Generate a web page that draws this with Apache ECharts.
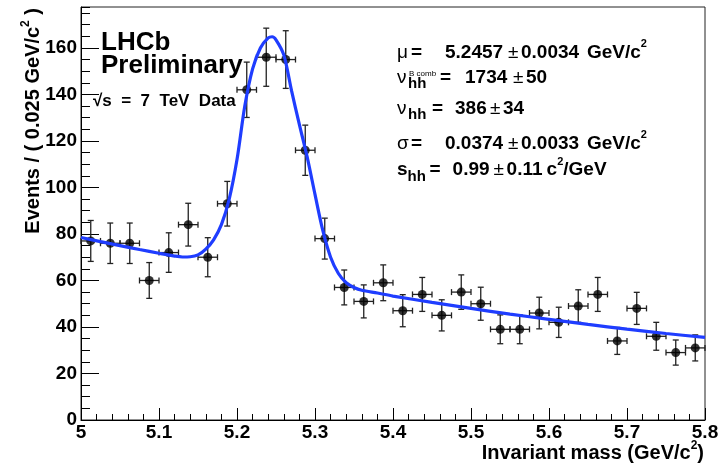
<!DOCTYPE html>
<html><head><meta charset="utf-8">
<script src="https://cdn.jsdelivr.net/npm/echarts@6/dist/echarts.min.js"></script>
<style>html,body{margin:0;padding:0;background:#fff}#c{width:724px;height:467px}</style>
</head><body><div id="c"></div>
<script>
// ---- data ----
const binCenters = [5.0125,5.0375,5.0625,5.0875,5.1125,5.1375,5.1625,5.1875,5.2125,5.2375,5.2625,5.2875,5.3125,5.3375,5.3625,5.3875,
                    5.4125,5.4375,5.4625,5.4875,5.5125,5.5375,5.5625,5.5875,5.6125,5.6375,5.6625,5.6875,5.7125,5.7375,5.7625,5.7875];
const counts  = [77,76,76,60,72,84,70,93,142,156,155,116,78,57,51,59,47,54,45,55,50,39,39,46,42,49,54,34,48,36,29,31];
const errors  = [8.8,8.7,8.7,7.7,8.5,9.2,8.4,9.6,11.9,12.5,12.4,10.8,8.8,7.5,7.1,7.7,6.9,7.3,6.7,7.4,7.1,6.2,6.2,6.8,6.5,7.0,7.3,5.8,6.9,6.0,5.4,5.6];
const binHalfWidth = 0.0125;
// fitted curve
const fitX = [5.000,5.025,5.050,5.075,5.100,5.120,5.130,5.140,5.150,5.160,5.170,5.180,5.190,5.200,5.210,5.220,5.230,5.240,5.245,
              5.250,5.260,5.270,5.280,5.290,5.300,5.310,5.320,5.330,5.340,5.350,5.360,5.380,5.400,5.450,5.500,5.550,5.600,5.650,5.700,5.750,5.800];
const fitY = [78.5,76.7,75.0,73.3,71.7,70.5,70.1,70.2,71.0,73.5,77.5,84,95,112,135,151,160,164.3,164.8,
              163.5,157,141.5,127,113,97,81.5,70,63,59,57,55.8,54.6,53.3,50.6,48.0,45.5,43.3,41.1,39.1,37.2,35.5];
const yTickLabels = [0,20,40,60,80,100,120,140,160];
const xTickLabels = ['5','5.1','5.2','5.3','5.4','5.5','5.6','5.7','5.8'];

const FONT = '"Liberation Sans", Arial, Helvetica, sans-serif';
const chart = echarts.init(document.getElementById('c'), null, {renderer:'canvas'});

const points = binCenters.map((x,i)=>[x, counts[i], errors[i]]);
const fitLine = fitX.map((x,i)=>[x, fitY[i]]);

const rich = {
  b:   {fontFamily:FONT, fontWeight:'bold', fontSize:19, lineHeight:28, color:'#000'},
  g:   {fontFamily:FONT, fontWeight:'normal', fontSize:19, lineHeight:28, color:'#000'},
  sup: {fontFamily:FONT, fontWeight:'bold', fontSize:11, lineHeight:16, verticalAlign:'top', color:'#000'},
  sub: {fontFamily:FONT, fontWeight:'bold', fontSize:15, lineHeight:12, verticalAlign:'bottom', color:'#000'}
};
function w(style, width){ return Object.assign({}, rich[style], {width}); }
const richW = Object.assign({}, rich, {
  g14: w('g',14), g11: w('g',11), eq34: w('b',34), n63: w('b',63), pm13: w('g',13), n66: w('b',66),
  sub32: w('sub',32), eq25: w('b',25), n48: w('b',48), n35: w('b',35),
  sub24: w('sub',24), sub22: w('sub',22), eq23: w('b',23), n41: w('b',41), n40: w('b',40)
});

const titleRich = {
  b:   {fontFamily:FONT, fontWeight:'bold', fontSize:20, lineHeight:28, color:'#000'},
  sup: {fontFamily:FONT, fontWeight:'bold', fontSize:12, lineHeight:16, verticalAlign:'top', color:'#000'}
};

function txt(x, y, text, r, extra){
  return Object.assign({type:'text', x, y, z:100, style:{text, rich:r, align:'left', verticalAlign:'top'}}, extra||{});
}

const option = {
  animation:false,
  backgroundColor:'#fff',
  grid:{left:81, right:19, top:7, bottom:47, show:true, borderColor:'#222', borderWidth:1, backgroundColor:'transparent'},
  xAxis:{
    type:'value', min:5, max:5.8, interval:0.1,
    axisLine:{show:true, onZero:false, lineStyle:{color:'#000', width:1}},
    axisTick:{show:true, inside:true, length:12, lineStyle:{color:'#000', width:1}},
    minorTick:{show:true, splitNumber:5, length:6, lineStyle:{color:'#000', width:1}},
    splitLine:{show:false},
    axisLabel:{show:true, margin:3, color:'#000', fontFamily:FONT, fontWeight:'bold', fontSize:19,
      formatter:(v)=>{ const i = Math.round((v-5)*10); return (Math.abs(v-5-i*0.1)<1e-6 && xTickLabels[i]!==undefined) ? xTickLabels[i] : ''; }}
  },
  yAxis:[{
    type:'value', min:0, max:177.6, interval:20, position:'left',
    axisLine:{show:true, onZero:false, lineStyle:{color:'#000', width:1}},
    axisTick:{show:true, inside:true, length:18, lineStyle:{color:'#000', width:1}},
    splitLine:{show:false},
    axisLabel:{show:true, margin:4, color:'#000', fontFamily:FONT, fontWeight:'bold', fontSize:19, showMaxLabel:false,
      formatter:(v)=>{ const i = Math.round(v/20); return (Math.abs(v-i*20)<1e-6 && yTickLabels[i]!==undefined) ? String(yTickLabels[i]) : ''; }}
  },{
    type:'value', min:0, max:177.6, interval:5, position:'left', offset:0,
    axisLine:{show:false},
    axisTick:{show:true, inside:true, length:9, lineStyle:{color:'#000', width:1}},
    splitLine:{show:false},
    axisLabel:{show:false}
  }],
  series:[
    {
      type:'custom', yAxisIndex:0, z:2,
      data:points,
      renderItem:(params, api)=>{
        const x=api.value(0), y=api.value(1), e=api.value(2);
        const c=api.coord([x,y]);
        const t=api.coord([x,y+e]), b=api.coord([x,y-e]);
        const l=api.coord([x-binHalfWidth,y]), r=api.coord([x+binHalfWidth,y]);
        const cap=3;
        const st={stroke:'#222', lineWidth:1.3};
        return {type:'group', children:[
          {type:'line', shape:{x1:c[0],y1:t[1],x2:c[0],y2:b[1]}, style:st},
          {type:'line', shape:{x1:c[0]-cap,y1:t[1],x2:c[0]+cap,y2:t[1]}, style:st},
          {type:'line', shape:{x1:c[0]-cap,y1:b[1],x2:c[0]+cap,y2:b[1]}, style:st},
          {type:'line', shape:{x1:l[0],y1:c[1],x2:r[0],y2:c[1]}, style:st},
          {type:'line', shape:{x1:l[0],y1:c[1]-cap,x2:l[0],y2:c[1]+cap}, style:st},
          {type:'line', shape:{x1:r[0],y1:c[1]-cap,x2:r[0],y2:c[1]+cap}, style:st}
        ]};
      }
    },
    {
      type:'scatter', yAxisIndex:0, z:3, data:points.map(p=>[p[0],p[1]]),
      symbol:'circle', symbolSize:9, itemStyle:{color:'#000'}
    },
    {
      type:'line', yAxisIndex:0, z:4, data:fitLine, smooth:0.3,
      showSymbol:false, symbol:'none', lineStyle:{color:'#1f3dff', width:3.2}, clip:true
    }
  ],
  graphic:[
    // LHCb label
    {type:'text', x:101, y:29.7, z:100, style:{text:'LHCb', fontFamily:FONT, fontWeight:'bold', fontSize:26, fill:'#000', verticalAlign:'top'}},
    {type:'text', x:101, y:53, z:100, style:{text:'Preliminary', fontFamily:FONT, fontWeight:'bold', fontSize:26, fill:'#000', verticalAlign:'top'}},
    {type:'text', x:93, y:93, z:100, style:{text:'\u221As  =  7  TeV  Data', fontFamily:FONT, fontWeight:'bold', fontSize:17, fill:'#000', verticalAlign:'top'}},
    // fit results
    txt(397, 38.7, '{g14|\u03BC}{eq34|=}{n63|5.2457}{pm13|\u00B1}{n66|0.0034}{b|GeV/c}{sup|2}', richW),
    txt(397, 63.7, '{g11|\u03BD}{sub32|hh}{eq25|=}{n48|1734}{pm13|\u00B1}{b|50}', richW),
    {type:'text', x:409, y:70, z:100, style:{text:'B comb', fontFamily:FONT, fontWeight:'normal', fontSize:8, fill:'#000', verticalAlign:'top'}},
    txt(397, 94.4, '{g11|\u03BD}{sub24|hh}{eq23|=}{n35|386}{pm13|\u00B1}{b|34}', richW),
    txt(397, 129.4, '{g14|\u03C3}{eq34|=}{n63|0.0374}{pm13|\u00B1}{n66|0.0033}{b|GeV/c}{sup|2}', richW),
    txt(397, 156.1, '{b|s}{sub22|hh}{eq23|=}{n41|0.99}{pm13|\u00B1}{n40|0.11}{b|c}{sup|2}{b|/GeV}', richW),
    // axis titles
    {type:'text', x:704, y:439.8, z:100, style:{text:'{b|Invariant mass (GeV/c}{sup|2}{b|)}', rich:titleRich, align:'right', verticalAlign:'top'}},
    {type:'text', x:19.8, y:8, rotation:Math.PI/2, z:100, style:{text:'{b|Events / ( 0.025 GeV/c}{sup|2}{b| )}', rich:titleRich, align:'right', verticalAlign:'top'}}
  ]
};
chart.setOption(option);
</script>
</body></html>
